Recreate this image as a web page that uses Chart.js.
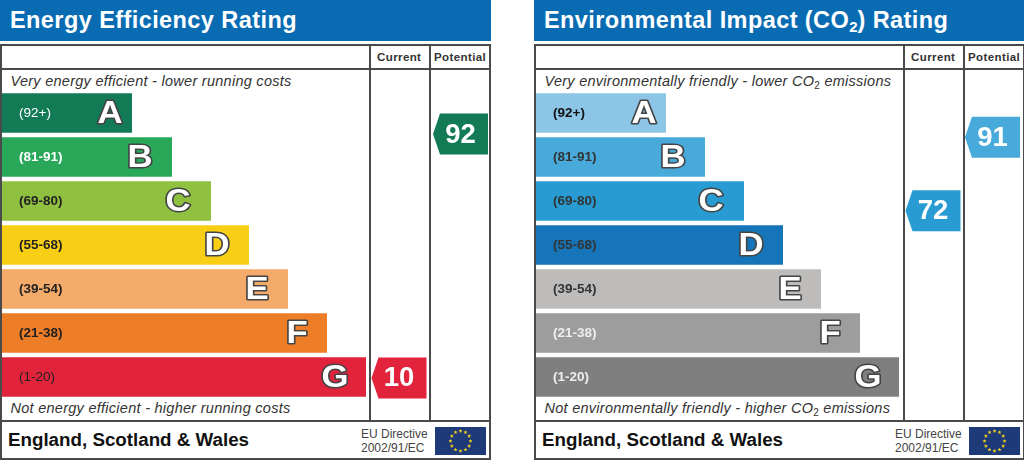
<!DOCTYPE html>
<html>
<head>
<meta charset="utf-8">
<script src="https://cdn.jsdelivr.net/npm/chart.js@4/dist/chart.umd.min.js"></script>
<style>
  html, body { margin: 0; padding: 0; background: #fff; }
  body { width: 1024px; height: 460px; overflow: hidden; position: relative; font-family: "Liberation Sans", Arial, sans-serif; }
  .panel { position: absolute; top: 0; width: 491px; height: 460px; }
  .title { position: absolute; left: 0; top: 0; width: 491px; height: 41px; background: #096cb3; color: #fff; font-weight: bold; font-size: 23.5px; line-height: 41px; letter-spacing: .42px; text-indent: 10px; white-space: nowrap; }
  .title sub { font-size: 15px; line-height: 0; vertical-align: -4px; letter-spacing: 0; }
  .line { position: absolute; background: #4a4a4a; }
  .head { position: absolute; top: 51px; font-size: 11.5px; font-weight: bold; color: #333; white-space: nowrap; letter-spacing: .4px; }
  .note { position: absolute; left: 10.5px; font-size: 14.5px; font-style: italic; color: #333; white-space: nowrap; letter-spacing: .27px; }
  .note sub { font-size: 10px; line-height: 0; vertical-align: -3px; font-style: normal; }
  .region { position: absolute; left: 8px; top: 429px; font-size: 18.75px; font-weight: bold; color: #111; white-space: nowrap; }
  .directive { position: absolute; left: 361px; top: 427px; font-size: 12px; line-height: 14px; color: #444; white-space: nowrap; }
  .flag { position: absolute; left: 435px; top: 427px; }
  canvas { position: absolute; left: 2px; top: 91px; }
</style>
</head>
<body>
<script>
// bands, top to bottom
const bandLetters = ['A', 'B', 'C', 'D', 'E', 'F', 'G'];
const bandRanges = ['(92+)', '(81-91)', '(69-80)', '(55-68)', '(39-54)', '(21-38)', '(1-20)'];

// --- Energy efficiency ---
const energyLengths = [130, 170, 209, 247, 286, 325, 364];
const energyColours = ['#127b55', '#2aa85a', '#8fc040', '#f8cf15', '#f4aa69', '#ee7d27', '#e1233c'];
const energyRangeColours = ['#fff', '#fff', '#222', '#222', '#222', '#222', '#222'];
const energyRangeWeights = ['normal', 'bold', 'bold', 'bold', 'bold', 'bold', 'normal'];
const energyRatings = [10, 92];
const energyRatingRows = [6.02, 0.48];
const energyRatingColumns = [397, 458.5];
const energyRatingColours = ['#e1233c', '#127b55'];

// --- Environmental impact ---
const impactLengths = [130, 169, 208, 247, 285, 324, 363];
const impactColours = ['#8cc5e6', '#47aadb', '#279bd2', '#1575b8', '#bdbcba', '#9d9d9d', '#7f7f7f'];
const impactRangeColours = ['#111', '#333', '#333', '#333', '#333', '#eee', '#eee'];
const impactRangeWeights = ['bold', 'bold', 'bold', 'bold', 'bold', 'bold', 'bold'];
const impactRatings = [72, 91];
const impactRatingRows = [2.22, 0.55];
const impactRatingColumns = [397, 456.5];
const impactRatingColours = ['#279bd2', '#47aadb'];

// letters sit a fixed distance back from the end of the bar
const letterInset = [22, 32, 33, 32, 31, 30, 31];

const bandLetterPlugin = {
  id: 'bandLetter',
  afterDatasetsDraw(chart) {
    const ctx = chart.ctx;
    ctx.font = 'bold 31px "Liberation Sans"';
    ctx.textAlign = 'center';
    ctx.textBaseline = 'middle';
    ctx.lineJoin = 'round';
    chart.getDatasetMeta(0).data.forEach((bar, i) => {
      ctx.save();
      // the letters are a bit wider than the font
      ctx.translate(bar.x - letterInset[i], bar.y + 1);
      ctx.scale(1.12, 1);
      ctx.lineWidth = 3;
      ctx.strokeStyle = '#444';
      ctx.strokeText(bandLetters[i], 0, 0);
      ctx.fillStyle = '#fff';
      ctx.fillText(bandLetters[i], 0, 0);
      ctx.restore();
    });
  }
};

const ratingArrowPlugin = {
  id: 'ratingArrow',
  afterDatasetsDraw(chart) {
    const ctx = chart.ctx;
    const ds = chart.data.datasets[1];
    ctx.save();
    chart.getDatasetMeta(1).data.forEach((pt, i) => {
      ctx.fillStyle = ds.arrowColours[i];
      ctx.beginPath();
      ctx.moveTo(pt.x - 27.5, pt.y);
      ctx.lineTo(pt.x - 20.5, pt.y - 20.5);
      ctx.lineTo(pt.x + 27.5, pt.y - 20.5);
      ctx.lineTo(pt.x + 27.5, pt.y + 20.5);
      ctx.lineTo(pt.x - 20.5, pt.y + 20.5);
      ctx.closePath();
      ctx.fill();
      ctx.fillStyle = '#fff';
      ctx.font = 'bold 27.5px "Liberation Sans"';
      ctx.textAlign = 'center';
      ctx.textBaseline = 'middle';
      ctx.fillText(ds.arrowLabels[i], pt.x, pt.y + 1);
    });
    ctx.restore();
  }
};

function flagSvg() {
  let stars = '';
  for (let i = 0; i < 12; i++) {
    const a = i * Math.PI / 6;
    const cx = 25.5 + 10 * Math.sin(a), cy = 14 - 10 * Math.cos(a);
    let pts = [];
    for (let k = 0; k < 10; k++) {
      const r = k % 2 ? 0.9 : 2.1, b = k * Math.PI / 5;
      pts.push((cx + r * Math.sin(b)).toFixed(2) + ',' + (cy - r * Math.cos(b)).toFixed(2));
    }
    stars += '<polygon points="' + pts.join(' ') + '" fill="#f3d21a"/>';
  }
  return '<svg class="flag" width="51" height="28"><rect width="51" height="28" fill="#1f3a78"/>' + stars + '</svg>';
}

function addPanel(left, cfg) {
  const panel = document.createElement('div');
  panel.className = 'panel';
  panel.style.left = left + 'px';
  const lines = [
    [1, 44, 489, 2], [1, 68, 489, 2], [1, 420, 489, 2], [1, 458, 489, 2],
    [0, 44, 2, 416], [369, 44, 2, 377], [429, 44, 2, 377], [489, 44, 2, 416]
  ];
  let html = '<div class="title">' + cfg.title + '</div>';
  lines.forEach(l => {
    html += '<div class="line" style="left:' + l[0] + 'px;top:' + l[1] + 'px;width:' + l[2] + 'px;height:' + l[3] + 'px"></div>';
  });
  html += '<div class="head" style="left:377px">Current</div><div class="head" style="left:434px">Potential</div>';
  html += '<div class="note" style="top:73px">' + cfg.top + '</div>';
  html += '<div class="note" style="top:400px">' + cfg.bottom + '</div>';
  html += '<div class="region">England, Scotland &amp; Wales</div>';
  html += '<div class="directive">EU Directive<br>2002/91/EC</div>' + flagSvg();
  html += '<canvas width="488" height="308"></canvas>';
  panel.innerHTML = html;
  document.body.appendChild(panel);

  new Chart(panel.querySelector('canvas'), {
    data: {
      labels: bandRanges,
      datasets: [{
        type: 'bar',
        indexAxis: 'y',
        data: cfg.lengths,
        backgroundColor: cfg.colours,
        barPercentage: 0.9,
        categoryPercentage: 1,
        grouped: false,
        xAxisID: 'x',
        yAxisID: 'y'
      }, {
        type: 'scatter',
        indexAxis: 'x',
        data: cfg.ratings.map((r, i) => ({ x: cfg.ratingColumns[i], y: cfg.ratingRows[i] })),
        arrowLabels: cfg.ratings,
        arrowColours: cfg.ratingColours,
        pointRadius: 0,
        xAxisID: 'x',
        yAxisID: 'rows'
      }]
    },
    options: {
      responsive: false,
      animation: false,
      indexAxis: 'y',
      layout: { padding: 0, autoPadding: false },
      plugins: { legend: { display: false }, tooltip: { enabled: false } },
      scales: {
        x: { type: 'linear', min: 0, max: 488, display: false },
        y: {
          type: 'category',
          offset: true,
          // mirrored ticks: the axis must not take any room from the plot
          afterFit: s => { s.width = 0; s.paddingTop = 0; s.paddingBottom = 0; },
          grid: { display: false },
          border: { display: false },
          ticks: {
            z: 1, // labels go on top of the bars
            mirror: true,
            padding: 17,
            color: c => cfg.rangeColours[c.index],
            font: c => ({ family: '"Liberation Sans"', size: 13.5, weight: cfg.rangeWeights[c.index] })
          }
        },
        rows: { type: 'linear', axis: 'y', min: -0.5, max: 6.5, reverse: true, display: false }
      }
    },
    plugins: [bandLetterPlugin, ratingArrowPlugin]
  });
}

addPanel(0, {
  title: 'Energy Efficiency Rating',
  top: 'Very energy efficient - lower running costs',
  bottom: 'Not energy efficient - higher running costs',
  lengths: energyLengths,
  colours: energyColours,
  rangeColours: energyRangeColours,
  rangeWeights: energyRangeWeights,
  ratings: energyRatings,
  ratingRows: energyRatingRows,
  ratingColumns: energyRatingColumns,
  ratingColours: energyRatingColours
});

addPanel(534, {
  title: 'Environmental Impact (CO<sub>2</sub>) Rating',
  top: 'Very environmentally friendly - lower CO<sub>2</sub> emissions',
  bottom: 'Not environmentally friendly - higher CO<sub>2</sub> emissions',
  lengths: impactLengths,
  colours: impactColours,
  rangeColours: impactRangeColours,
  rangeWeights: impactRangeWeights,
  ratings: impactRatings,
  ratingRows: impactRatingRows,
  ratingColumns: impactRatingColumns,
  ratingColours: impactRatingColours
});
</script>
</body>
</html>
